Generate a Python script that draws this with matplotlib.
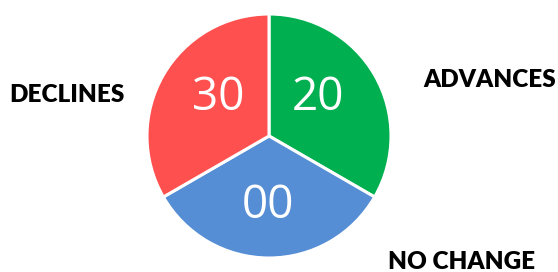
import matplotlib
matplotlib.use("Agg")
import matplotlib.pyplot as plt

# data
categories = ["ADVANCES", "NO CHANGE", "DECLINES"]
shares = [1, 1, 1]
value_labels = ["20", "00", "30"]
colors = ["#00B050", "#558ED5", "#FF5050"]

fig = plt.figure(figsize=(5.58, 2.72), dpi=100)
ax = fig.add_axes([0, 0, 1, 1])

cx, cy, r = 269, 136, 122
wedges, _ = ax.pie(shares, colors=colors, startangle=90, counterclock=False,
                   center=(cx, cy), radius=r,
                   wedgeprops=dict(edgecolor="white", linewidth=2.2))

# numbers inside the slices
num_pos = [(318, 174), (268, 66), (218, 174)]
for (x, y), txt in zip(num_pos, value_labels):
    ax.text(x, y, txt, ha="center", va="center", color="white",
            fontsize=33, family="Open Sans")

# category labels outside
cat_pos = [(490, 192), (462, 10), (67, 177)]
for (x, y), txt in zip(cat_pos, categories):
    ax.text(x, y, txt, ha="center", va="center", color="black",
            fontsize=17.5, fontweight="heavy", family="Lato")

ax.set_xlim(0, 558)
ax.set_ylim(0, 272)
ax.set_aspect("equal")
ax.axis("off")

fig.savefig("out.png", dpi=100, facecolor="white")
